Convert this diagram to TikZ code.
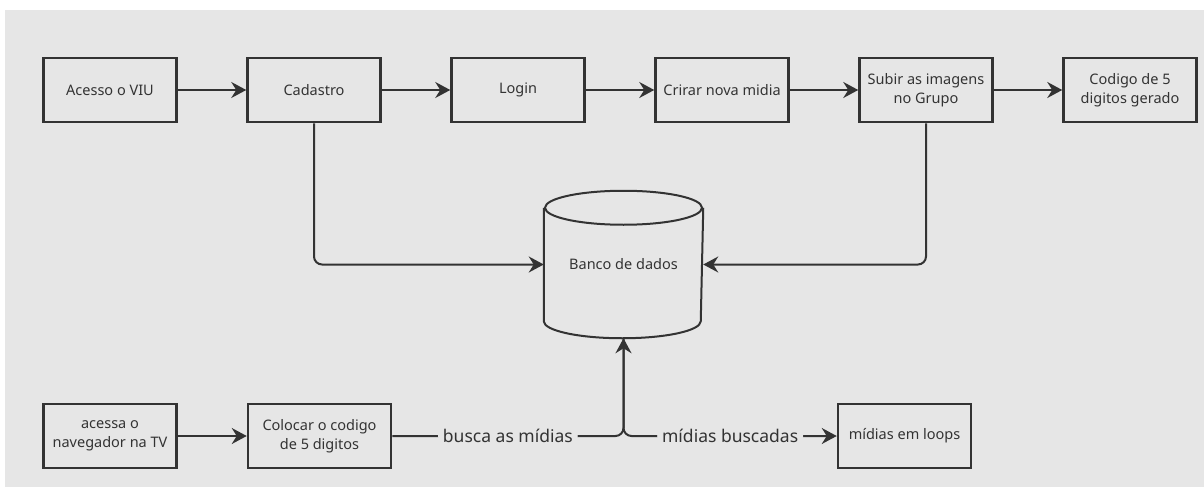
\documentclass[tikz,border=0pt]{standalone}
\usepackage{fontspec}
\setmainfont{Noto Sans}
\usetikzlibrary{arrows.meta}
\definecolor{bg}{HTML}{E6E6E6}
\definecolor{ink}{HTML}{333333}

\begin{document}
\begin{tikzpicture}[x=1pt,y=-1pt,
    box/.style={draw=ink, line width=2.5pt, minimum width=133pt, minimum height=64pt,
      align=center, text=ink, font=\fontsize{14.5}{19}\selectfont, inner sep=2pt},
    arr/.style={draw=ink, line width=2pt, -{Stealth[length=15pt,width=16pt,inset=5pt]}},
    lbl/.style={fill=bg, text=ink, font=\fontsize{17.5}{20}\selectfont, inner xsep=5pt, inner ysep=1pt}]
        \useasboundingbox (0,0) rectangle (1204,487);
        \fill[white] (0,0) rectangle (1204,487);
        \fill[bg] (5,10) rectangle (1204,487);

        \node[box] (A) at (110,90) {Acesso o VIU};
        \node[box] (B) at (314,90) {Cadastro};
        \node[box] (C) at (518,90) {Login};
        \node[box] (D) at (722,90) {Crirar nova midia};
        \node[box] (E) at (926,90) {Subir as imagens\\no Grupo};
        \node[box] (F) at (1130,90) {Codigo de 5\\digitos gerado};
        \node[box, draw=none, minimum width=157pt, minimum height=145pt] (G) at (623.5,264.5) {Banco de dados};
        \draw[ink, line width=2pt] ([yshift=-17pt]G.north west) -- ([yshift=17pt]G.south west)
          arc[start angle=180, end angle=360, x radius=78.5pt, y radius=17pt]
          -- ([yshift=-17pt]G.north east);
        \draw[ink, line width=2pt] ([yshift=-17pt]G.north) ellipse [x radius=78.5pt, y radius=17pt];
        \node[box] (H) at (110,436) {acessa o\\navegador na TV};
        \node[box, minimum width=143pt] (I) at (319.5,436) {Colocar o codigo\\de 5 digitos};
        \node[box] (J) at (904.5,436) {mídias em loops};

        \draw[arr] (A) -- (B);
        \draw[arr] (B) -- (C);
        \draw[arr] (C) -- (D);
        \draw[arr] (D) -- (E);
        \draw[arr] (E) -- (F);
        \draw[arr, rounded corners=8pt] (B.south) |- (G.west);
        \draw[arr, rounded corners=8pt] (E.south) |- (G.east);
        \draw[arr, rounded corners=8pt] (H) -- (I);
        \draw[arr, rounded corners=8pt] (I.east) -| node[lbl, pos=0.25]{busca as mídias} (G.south);
        \draw[arr, rounded corners=8pt] (G.south) |- node[lbl, pos=0.75]{mídias buscadas} (J.west);
      \end{tikzpicture}
\end{document}
